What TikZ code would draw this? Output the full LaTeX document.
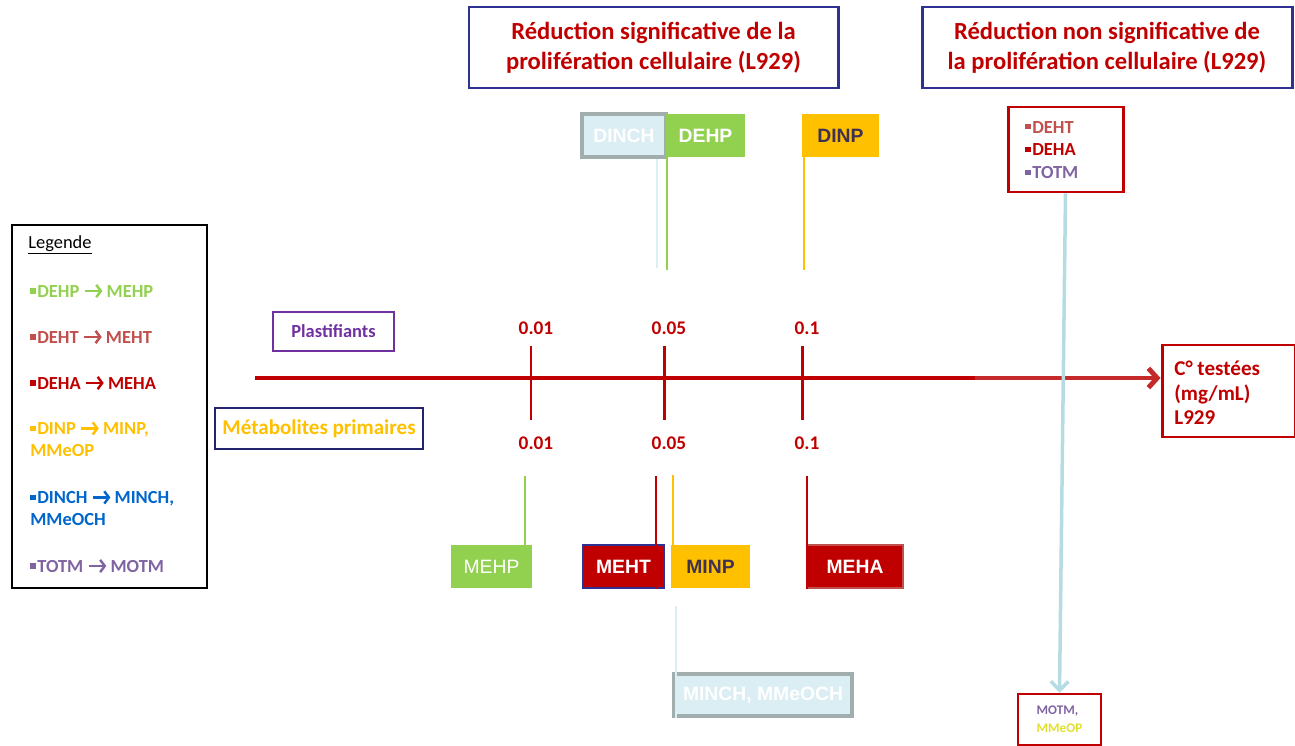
\documentclass[tikz,border=0pt]{standalone}
\usepackage{fontspec}
\setmainfont{Carlito}
\newfontfamily\arialfont{Liberation Sans}
\usetikzlibrary{arrows.meta, positioning, calc}

\definecolor{darkred}{HTML}{C00000}
\definecolor{softred}{HTML}{C0504D}
\definecolor{axislight}{HTML}{C42A2A}
\definecolor{navyline}{HTML}{2E3192}
\definecolor{navydark}{HTML}{24246E}
\definecolor{plasgreen}{HTML}{92D050}
\definecolor{plasgold}{HTML}{FFC000}
\definecolor{plasblue}{HTML}{0066CC}
\definecolor{plaspurple}{HTML}{8064A2}
\definecolor{plasviolet}{HTML}{7030A0}
\definecolor{palecyan}{HTML}{DAEEF3}
\definecolor{grayedge}{HTML}{A2AEAE}
\definecolor{arrowcyan}{HTML}{B4DCE2}
\definecolor{darkink}{HTML}{3F3151}
\definecolor{lemon}{HTML}{E0E030}

\newcommand{\sqb}{\rule[0.2em]{0.3em}{0.3em}\hspace{0.08em}}
\newcommand{\arr}{\tikz[baseline=-0.35em]\draw[line width=1.4pt, -{Straight Barb[length=2.6pt,width=7pt,line width=1.4pt]}] (0,0) -- (0.95em,0);}

\tikzset{
  sz/.style 2 args={minimum width=#1*0.02cm, minimum height=#2*0.02cm},
  titlebox/.style={draw=navyline, line width=1.7pt, text=darkred, align=center, inner sep=0pt,
    font=\bfseries\fontsize{14}{17}\selectfont},
  tag/.style={inner sep=0pt, text=white, font=\arialfont\bfseries\fontsize{11}{13}\selectfont},
  legitem/.style={anchor=west, inner sep=0pt, align=left, font=\bfseries\fontsize{10.5}{12.5}\selectfont},
  conc/.style={text=darkred, inner sep=0pt, font=\bfseries\fontsize{11}{13}\selectfont},
  axis/.style={line width=2.8pt, darkred},
  tick/.style={line width=1.7pt, darkred},
  link/.style={line width=1.6pt}
}

\begin{document}
\begin{tikzpicture}[x=0.02cm, y=-0.02cm]
\useasboundingbox (0,0) rectangle (1295,746);

% Titres
\node[titlebox, sz={369}{81}] (sig) at (653.5,47.5) {Réduction significative de la\\prolifération cellulaire (L929)};
\node[titlebox, sz={370}{81}] (nonsig) at (1107,47.5) {Réduction non significative de\\la prolifération cellulaire (L929)};

% Plastifiants
\node[tag, fill=palecyan, draw=grayedge, line width=2pt, sz={84}{43}] (dinch) at (624,135.5) {DINCH};
\node[tag, fill=plasgreen, sz={79}{43}] (dehp) at (705.5,135.5) {DEHP};
\node[tag, fill=plasgold, text=darkink, sz={77}{43}] (dinp) at (840.5,135.5) {DINP};

\node[draw=darkred, line width=1.7pt, sz={115}{85}] (nsbox) at (1065.5,149.5) {};
\node[legitem, font=\bfseries\fontsize{10.5}{13}\selectfont] (nstext) at (1025,150)
  {\textcolor{softred}{\sqb DEHT}\\\textcolor{darkred}{\sqb DEHA}\\\textcolor{plaspurple}{\sqb TOTM}};

% Legende
\node[draw=black, line width=1.7pt, sz={195}{363}] (legend) at (109.5,406.5) {};
\node[anchor=west, inner sep=0pt, font=\fontsize{10.5}{13}\selectfont] (leg0) at (28,245) {\underline{Legende}};
\node[legitem, text=plasgreen] (leg1) at (30,291) {\sqb DEHP \arr\,MEHP};
\node[legitem, text=softred] (leg2) at (30,337) {\sqb DEHT \arr\,MEHT};
\node[legitem, text=darkred] (leg3) at (30,383) {\sqb DEHA \arr\,MEHA};
\node[legitem, text=plasgold] (leg4) at (30,439) {\sqb DINP \arr\,MINP,\\MMeOP};
\node[legitem, text=plasblue] (leg5) at (30,508) {\sqb DINCH \arr\,MINCH,\\MMeOCH};
\node[legitem, text=plaspurple] (leg6) at (30,566) {\sqb TOTM \arr\,MOTM};

\node[draw=plasviolet, line width=1.5pt, text=plasviolet, font=\bfseries\fontsize{10.5}{12}\selectfont, sz={121}{39}] (plast) at (333.5,331.5) {Plastifiants};
\node[draw=navydark, line width=1.7pt, text=plasgold, font=\bfseries\fontsize{12}{14}\selectfont, sz={208}{41}] (metab) at (319,428.5) {Métabolites primaires};

% Axe des concentrations
\node[draw=darkred, line width=1.7pt, sz={133}{92}] (ctest) at (1228.5,391) {};
\node[legitem, text=darkred, font=\bfseries\fontsize{12}{14}\selectfont] (ctesttxt) at (1174,393) {C° testées\\(mg/mL)\\L929};
\coordinate (axstart) at (255,378);
\coordinate (axmid) at (975,378);
\draw[axis] (axstart) -- (axmid);
\draw[axis, axislight, -{Straight Barb[length=5pt,width=11pt]}] (axmid) -- (axmid -| ctest.west);

\foreach \x/\lab/\nm in {531/0.01/a, 664/0.05/b, 802/0.1/c} {
  \draw[tick] (\x,346) -- (\x,420);
  \node[conc] (up\nm) at (\x+5,328) {\lab};
  \node[conc] (dn\nm) at (\x+5,443) {\lab};
}

% Metabolites
\node[tag, fill=plasgreen, font=\arialfont\fontsize{11}{13}\selectfont, sz={81}{43}] (mehp) at (491.5,566.5) {MEHP};
\node[tag, fill=darkred, draw=navyline, line width=1.2pt, sz={81}{43}] (meht) at (623.5,566.5) {MEHT};
\node[tag, fill=plasgold, text=darkink, sz={79}{43}] (minp) at (710.5,566.5) {MINP};
\node[tag, fill=darkred, draw=softred, line width=1.5pt, sz={96}{43}] (meha) at (855,566.5) {MEHA};
\node[tag, fill=palecyan, draw=grayedge, line width=2pt, sz={178}{42}] (minch) at (763,695) {MINCH, MMeOCH};
\node[draw=darkred, line width=1.5pt, sz={83}{51}, align=left, inner sep=0pt, font=\bfseries\fontsize{7.5}{10}\selectfont] (motm) at (1059.5,719.5)
  {\textcolor{plaspurple}{MOTM,}\\\textcolor{lemon}{MMeOP}};

% Lignes vers l'axe
\coordinate (dinchend) at (657,268);
\coordinate (dehpend) at (667,270);
\coordinate (dinpend) at (804,270);
\draw[link, palecyan] (dinchend |- dinch.south) -- (dinchend);
\draw[link, plasgreen] (dehpend |- dehp.south) -- (dehpend);
\draw[link, plasgold] (dinpend |- dinp.south) -- (dinpend);

\coordinate (mehpstart) at (525,476);
\coordinate (mehtstart) at (656,476);
\coordinate (minpstart) at (673,475);
\coordinate (mehastart) at (807,476);
\coordinate (minchstart) at (676,606);
\draw[link, plasgreen] (mehpstart) -- (mehpstart |- mehp.north);
\draw[link, darkred] (mehtstart) -- (mehtstart |- meht.south);
\draw[link, plasgold] (minpstart) -- (minpstart |- minp.north);
\draw[link, darkred] (mehastart) -- (mehastart |- meha.south);
\draw[link, palecyan] (minchstart) -- (minchstart |- minch.south);

\draw[link, arrowcyan, line width=2pt, -{Straight Barb[length=5pt,width=10pt]}] (nsbox.south) -- (motm.north);

\end{tikzpicture}
\end{document}
